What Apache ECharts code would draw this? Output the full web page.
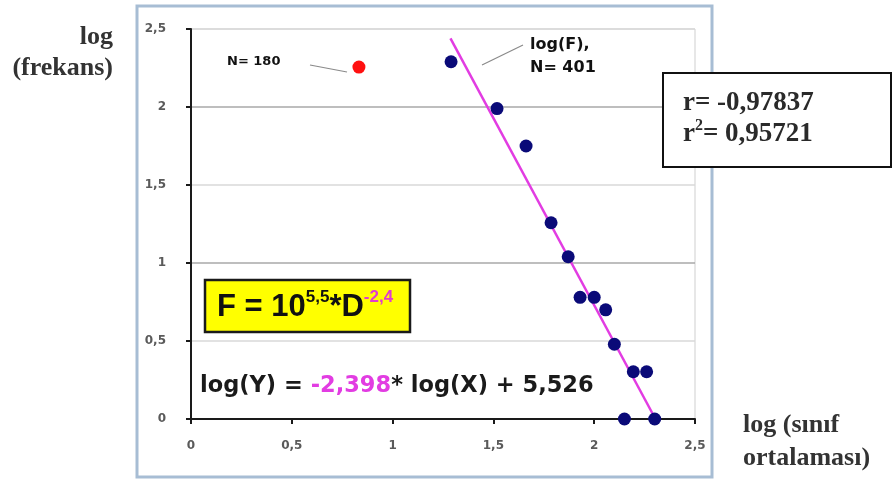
<!DOCTYPE html>
<html>
<head>
<meta charset="utf-8">
<script src="https://cdn.jsdelivr.net/npm/echarts@6/dist/echarts.min.js"></script>
<style>
html,body{margin:0;padding:0;background:#fff;}
#chart{width:892px;height:483px;}
</style>
</head>
<body>
<div id="chart"></div>
<script>
// ---- data ----
const blueX = [1.29, 1.518, 1.662, 1.786, 1.871, 1.93, 2.0, 2.057, 2.10, 2.194, 2.26, 2.15, 2.30];
const blueY = [2.29, 1.99, 1.75, 1.258, 1.04, 0.78, 0.78, 0.70, 0.479, 0.303, 0.303, 0, 0];
const redX = [0.833];
const redY = [2.256];
const fitX = [1.287, 2.304];
const fitY = [2.44, 0];
const axisMin = 0, axisMax = 2.5, axisStep = 0.5;

const toPairs = (xs, ys) => xs.map((x, i) => [x, ys[i]]);
const fmt = v => String(v).replace('.', ',');

const chart = echarts.init(document.getElementById('chart'));

const option = {
  animation: false,
  backgroundColor: '#ffffff',
  grid: {left: 191, right: 197, top: 29, bottom: 64, show: true, borderColor: '#cfcfcf', borderWidth: 1, backgroundColor: 'transparent'},
  xAxis: {
    type: 'value', min: axisMin, max: axisMax, interval: axisStep,
    axisLine: {lineStyle: {color: '#1a1a1a', width: 2}},
    axisTick: {length: 5, lineStyle: {color: '#1a1a1a', width: 2}},
    axisLabel: {formatter: fmt, color: '#5a5a5a', fontSize: 12, margin: 21, fontFamily: 'DejaVu Sans', fontWeight: 'bold'},
    splitLine: {show: false}
  },
  yAxis: {
    type: 'value', min: axisMin, max: axisMax, interval: axisStep,
    axisLine: {show: true, lineStyle: {color: '#1a1a1a', width: 2}},
    axisTick: {show: true, length: 5, lineStyle: {color: '#1a1a1a', width: 2}},
    axisLabel: {formatter: fmt, color: '#5a5a5a', fontSize: 12, margin: 25, fontFamily: 'DejaVu Sans', fontWeight: 'bold'},
    splitLine: {show: true, lineStyle: {color: ['#a8a8a8', '#d8d8d8'], width: 1.5}}
  },
  series: [
    {type: 'line', data: toPairs(fitX, fitY), symbol: 'none', lineStyle: {color: '#e23ce2', width: 2.5}, z: 2},
    {type: 'scatter', data: toPairs(blueX, blueY), symbolSize: 13, itemStyle: {color: '#0a0a78', opacity: 1}, z: 3},
    {type: 'scatter', data: toPairs(redX, redY), symbolSize: 13, itemStyle: {color: '#ff1010', opacity: 1}, z: 3}
  ],
  graphic: [
    // outer frame
    {type: 'rect', shape: {x: 137, y: 6, width: 575, height: 471}, style: {fill: 'none', stroke: '#a7bdd4', lineWidth: 3}, z: 1},
    // axis titles
    {type: 'text', x: 113, y: 37, style: {text: 'log', font: 'bold 26px "Liberation Serif"', fill: '#333', align: 'right', verticalAlign: 'middle'}},
    {type: 'text', x: 113, y: 68, style: {text: '(frekans)', font: 'bold 26px "Liberation Serif"', fill: '#333', align: 'right', verticalAlign: 'middle'}},
    {type: 'text', x: 743, y: 425, style: {text: 'log (sınıf', font: 'bold 26px "Liberation Serif"', fill: '#333', align: 'left', verticalAlign: 'middle'}},
    {type: 'text', x: 743, y: 458, style: {text: 'ortalaması)', font: 'bold 26px "Liberation Serif"', fill: '#333', align: 'left', verticalAlign: 'middle'}},
    // N=180 label
    {type: 'text', x: 227, y: 62, style: {text: 'N= 180', font: 'bold 13px "DejaVu Sans"', fill: '#111', align: 'left', verticalAlign: 'middle'}},
    {type: 'line', shape: {x1: 310, y1: 65, x2: 347, y2: 72}, style: {stroke: '#8a8a8a', lineWidth: 1.2}},
    // log(F) label
    {type: 'text', x: 530, y: 45, style: {text: 'log(F),', font: 'bold 16px "DejaVu Sans"', fill: '#111', align: 'left', verticalAlign: 'middle'}},
    {type: 'text', x: 530, y: 68, style: {text: 'N= 401', font: 'bold 16px "DejaVu Sans"', fill: '#111', align: 'left', verticalAlign: 'middle'}},
    {type: 'line', shape: {x1: 482, y1: 65, x2: 523, y2: 45}, style: {stroke: '#8a8a8a', lineWidth: 1.2}},
    // yellow box
    {type: 'rect', shape: {x: 205, y: 280, width: 205, height: 52}, style: {fill: '#ffff00', stroke: '#1a1a1a', lineWidth: 2.5}, z: 10},
    {type: 'text', x: 217, y: 306, z: 11, style: {
      text: '{a|F = 10}{b|5,5}{a|*D}{c|-2,4}',
      verticalAlign: 'middle', align: 'left',
      rich: {
        a: {font: 'bold 31px "Liberation Sans"', fill: '#111', lineHeight: 34, verticalAlign: 'bottom'},
        b: {font: 'bold 17px "Liberation Sans"', fill: '#111', lineHeight: 34, verticalAlign: 'top'},
        c: {font: 'bold 17px "Liberation Sans"', fill: '#e03ccf', lineHeight: 34, verticalAlign: 'top'}
      }
    }},
    // regression equation
    {type: 'text', x: 200, y: 386, z: 11, style: {
      text: '{a|log(Y) = }{m|-2,398}{a|* log(X) + 5,526}',
      verticalAlign: 'middle', align: 'left',
      rich: {
        a: {font: 'bold 22.5px "DejaVu Sans"', fill: '#1a1a1a'},
        m: {font: 'bold 22.5px "DejaVu Sans"', fill: '#e23ce2'}
      }
    }},
    // r box
    {type: 'rect', shape: {x: 663, y: 73, width: 228, height: 94}, style: {fill: '#fff', stroke: '#111', lineWidth: 2}, z: 10},
    {type: 'text', x: 683, y: 103, z: 11, style: {text: 'r= -0,97837', font: 'bold 27px "Liberation Serif"', fill: '#2a2a2a', align: 'left', verticalAlign: 'middle'}},
    {type: 'text', x: 683, y: 133, z: 11, style: {
      text: '{a|r}{s|2}{a|= 0,95721}', verticalAlign: 'middle', align: 'left',
      rich: {
        a: {font: 'bold 27px "Liberation Serif"', fill: '#2a2a2a', lineHeight: 30, verticalAlign: 'bottom'},
        s: {font: 'bold 16px "Liberation Serif"', fill: '#2a2a2a', lineHeight: 30, verticalAlign: 'top'}
      }
    }}
  ]
};
chart.setOption(option);
</script>
</body>
</html>
